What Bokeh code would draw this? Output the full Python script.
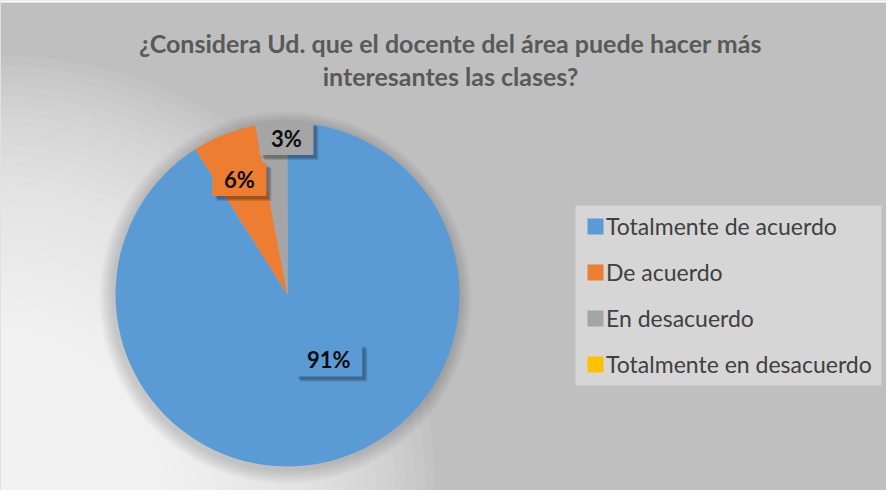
import math
from bokeh.plotting import figure
from bokeh.models import Range1d, ColumnDataSource, Legend, LegendItem
from bokeh.core.properties import value
from bokeh.embed import file_html
from bokeh.resources import INLINE

# ---- data ----
categories = ["Totalmente de acuerdo", "De acuerdo", "En desacuerdo", "Totalmente en desacuerdo"]
percents = [91, 6, 3, 0]
colors = ["#5B9BD5", "#ED7D31", "#A5A5A5", "#FFC000"]
title_lines = ["¿Considera Ud. que el docente del área puede hacer más", "interesantes las clases?"]

# ---- layout (pixel-like data space) ----
W, H = 886, 490
CX, CY, R = 287, 196, 172
label_angle = [147.8, 337.3, 359.6]   # deg clockwise from top, for labelled slices
label_frac = [0.45, 0.725, 0.907]

p = figure(width=W, height=H, output_backend="svg", toolbar_location=None,
           x_range=Range1d(0, W), y_range=Range1d(0, H), min_border=0)
p.axis.visible = False
p.grid.visible = False
p.outline_line_color = None
p.background_fill_color = "#bfbfbf"
p.border_fill_color = "white"

# soft white glow in the lower-left corner
for i in range(44):
    r = 440 - i * 10
    p.circle(x=[-5], y=[-5], radius=r, fill_color="white", fill_alpha=0.065, line_color=None)
# top strip (page margin above chart)
p.quad(left=[0], right=[W], bottom=[H - 2], top=[H], fill_color="white", line_color=None)

# soft pie shadow
for i in range(7):
    p.circle(x=[CX - 2], y=[CY - 3], radius=R + 14 - 2 * i, fill_color="black",
             fill_alpha=0.025, line_color=None)

# wedges
total = sum(percents)
starts, ends, radii = [], [], []
cum = 0.0
for v in percents:
    a0 = math.pi / 2 - 2 * math.pi * cum / total
    cum += v
    a1 = math.pi / 2 - 2 * math.pi * cum / total
    starts.append(a0)
    ends.append(a1)
    radii.append(R if v > 0 else 0)
src = ColumnDataSource(dict(start=starts, end=ends, color=colors, r=radii, cat=categories))
wr = p.wedge(x=CX, y=CY, radius="r", start_angle="start", end_angle="end", direction="clock",
             fill_color="color", line_color=None, source=src)

# data labels
for i, v in enumerate(percents):
    if v <= 0:
        continue
    ang = math.radians(label_angle[i])
    lx = CX + R * label_frac[i] * math.sin(ang)
    ly = CY + R * label_frac[i] * math.cos(ang)
    txt = f"{v}%"
    bw = 13 * len(txt) + 28
    bh = 33
    for k in range(3):
        p.rect(x=[lx + 3 + k], y=[ly - 3 - k], width=bw, height=bh, fill_color="black",
               fill_alpha=0.12, line_color=None)
    p.rect(x=[lx], y=[ly], width=bw, height=bh, fill_color=colors[i], line_color=None)
    p.text(x=[lx], y=[ly], text=[txt], text_align="center", text_baseline="middle",
           text_font=value("Lato"), text_font_style="bold", text_font_size="22px", text_color="#0d0d0d")

# title
for j, line in enumerate(title_lines):
    p.text(x=[450], y=[H - 42 - j * 33], text=[line], text_align="center", text_baseline="middle",
           text_font=value("Lato"), text_font_style="bold", text_font_size="25px", text_color="#595959")

# legend box background
p.quad(left=[575], right=[881], bottom=[105], top=[285], fill_color="#d6d6d6", line_color=None)

# legend
items = [LegendItem(label=c, renderers=[wr], index=i) for i, c in enumerate(categories)]
legend = Legend(items=items, location=(585, 112), orientation="vertical",
                background_fill_alpha=0.0, border_line_color=None,
                label_text_font="Lato", label_text_font_size="23px",
                label_text_color="#404040", glyph_width=20, glyph_height=20,
                label_height=27, spacing=18, padding=16, margin=0, label_standoff=1)
p.add_layout(legend)

open("out.html", "w").write(file_html(p, INLINE))
